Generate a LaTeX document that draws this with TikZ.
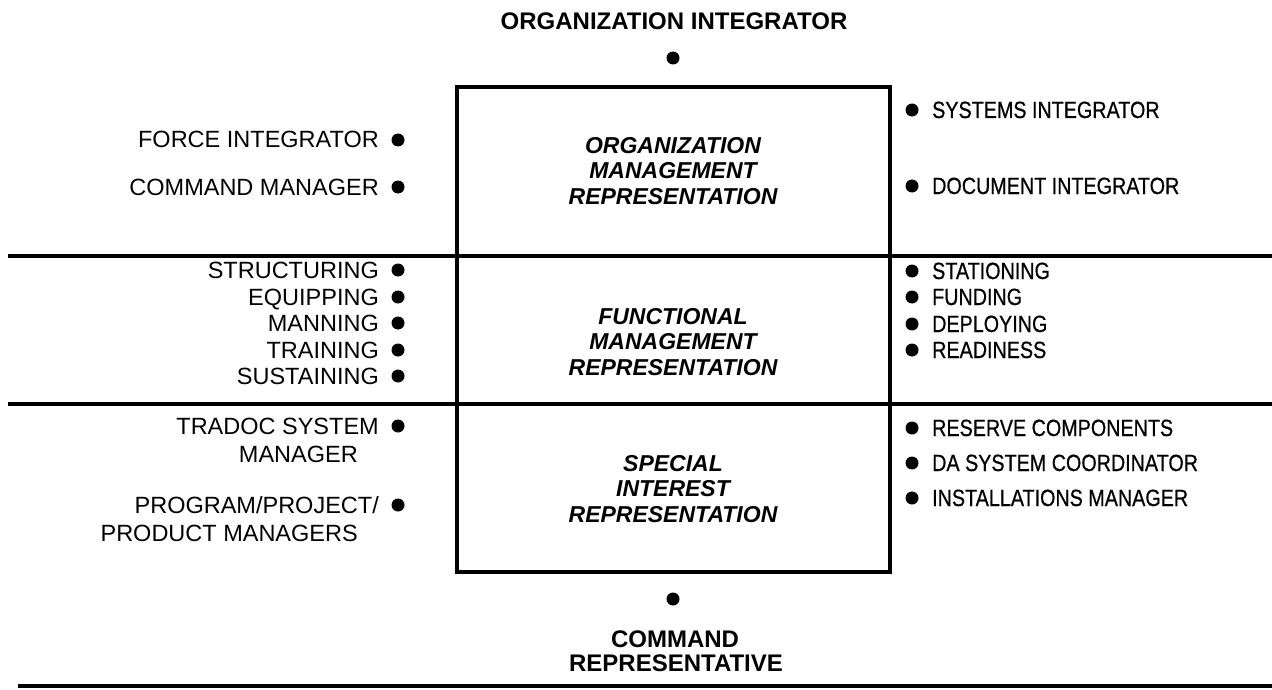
\documentclass[tikz,border=0pt]{standalone}
\usepackage{fontspec}
\setmainfont{Liberation Sans}
\newfontfamily\narrowfont[FakeStretch=0.84,FakeBold=0.6]{Liberation Sans}
\tikzset{
  lab/.style={font=\fontsize{23.5}{26}\selectfont, inner sep=0pt, anchor=base east},
  rlab/.style={font=\narrowfont\fontsize{23.5}{26}\selectfont, inner sep=0pt, anchor=base west},
  sect/.style={font=\bfseries\itshape\fontsize{23}{25.5}\selectfont, align=center, inner sep=0pt},
  ttl/.style={font=\bfseries\fontsize{24}{25}\selectfont, align=center, inner sep=0pt},
  dot/.style={circle, fill=black, inner sep=0pt, minimum size=13pt},
  rule/.style={line width=3.5pt}
}
\begin{document}
\begin{tikzpicture}[x=1pt,y=-1pt]
\useasboundingbox (0,0) rectangle (1272,690);
% main box
\node[draw, line width=4pt, minimum width=433pt, minimum height=485pt, inner sep=0pt] (box) at (673.5,329.5) {};
% dividers
\coordinate (d1l) at (8,256);   \coordinate (d1r) at (1272,256);
\coordinate (d2l) at (8,404);   \coordinate (d2r) at (1272,404);
\coordinate (bl) at (18,686);   \coordinate (br) at (1272,686);
\draw[rule] (d1l) -- (d1r);
\draw[rule] (d2l) -- (d2r);
\draw[rule] (bl) -- (br);
% section texts
\node[sect] (sec1) at (673,171) {ORGANIZATION\\MANAGEMENT\\REPRESENTATION};
\node[sect] (sec2) at (673,342) {FUNCTIONAL\\MANAGEMENT\\REPRESENTATION};
\node[sect] (sec3) at (673,489) {SPECIAL\\INTEREST\\REPRESENTATION};
% top and bottom
\node[ttl, anchor=base] (oi) at (674,30) {ORGANIZATION INTEGRATOR};
\node[dot] (oidot) at (673,58) {};
\node[dot] (crdot) at (673,599) {};
\node[ttl, anchor=base] (cr1) at (675,647) {COMMAND};
\node[ttl, anchor=base] (cr2) at (676,671) {REPRESENTATIVE};
% left labels
\node[lab] (l1) at (379,148) {FORCE INTEGRATOR};       \node[dot] (l1d) at (398,140) {};
\node[lab] (l2) at (379,195) {COMMAND MANAGER};        \node[dot] (l2d) at (398,187) {};
\node[lab] (l3) at (379,278) {STRUCTURING};            \node[dot] (l3d) at (398,270) {};
\node[lab] (l4) at (379,305) {EQUIPPING};              \node[dot] (l4d) at (398,297) {};
\node[lab] (l5) at (379,331) {MANNING};                \node[dot] (l5d) at (398,323) {};
\node[lab] (l6) at (379,358) {TRAINING};               \node[dot] (l6d) at (398,350) {};
\node[lab] (l7) at (379,384) {SUSTAINING};             \node[dot] (l7d) at (398,376) {};
\node[lab] (l8) at (379,434) {TRADOC SYSTEM};          \node[dot] (l8d) at (398,426) {};
\node[lab] (l8b) at (358,462) {MANAGER};
\node[lab] (l9) at (379,513) {PROGRAM/PROJECT/};       \node[dot] (l9d) at (398,505) {};
\node[lab] (l9b) at (358,541) {PRODUCT MANAGERS};
% right labels
\node[dot] (r1d) at (912,110) {};  \node[rlab] (r1) at (932,118) {SYSTEMS INTEGRATOR};
\node[dot] (r2d) at (912,186) {};  \node[rlab] (r2) at (932,194) {DOCUMENT INTEGRATOR};
\node[dot] (r3d) at (912,271) {};  \node[rlab] (r3) at (932,279) {STATIONING};
\node[dot] (r4d) at (912,297) {};  \node[rlab] (r4) at (932,305) {FUNDING};
\node[dot] (r5d) at (912,324) {};  \node[rlab] (r5) at (932,332) {DEPLOYING};
\node[dot] (r6d) at (912,350) {};  \node[rlab] (r6) at (932,358) {READINESS};
\node[dot] (r7d) at (912,428) {};  \node[rlab] (r7) at (932,436) {RESERVE COMPONENTS};
\node[dot] (r8d) at (912,463) {};  \node[rlab] (r8) at (932,471) {DA SYSTEM COORDINATOR};
\node[dot] (r9d) at (912,498) {};  \node[rlab] (r9) at (932,506) {INSTALLATIONS MANAGER};
\end{tikzpicture}
\end{document}
